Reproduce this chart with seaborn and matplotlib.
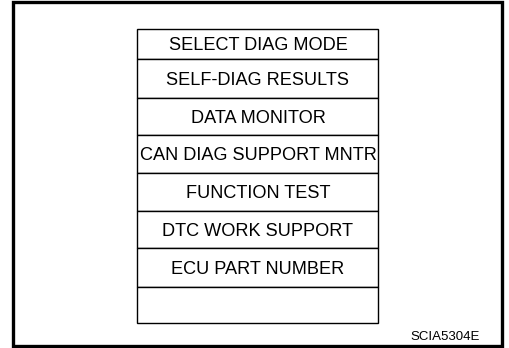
import numpy as np
import matplotlib
matplotlib.use("Agg")
import matplotlib.pyplot as plt
from matplotlib.patches import Rectangle
import seaborn as sns

# ── Data ─────────────────────────────────────────────
menu_items = [
    "SELECT DIAG MODE",
    "SELF-DIAG RESULTS",
    "DATA MONITOR",
    "CAN DIAG SUPPORT MNTR",
    "FUNCTION TEST",
    "DTC WORK SUPPORT",
    "ECU PART NUMBER",
    "",
]
figure_code = "SCIA5304E"

# ── Layout (pixels) ──────────────────────────────────
W, H = 509, 348
BOX_LEFT, BOX_TOP, BOX_W = 137, 29, 241
row_px = [30, 39, 37, 38, 38, 37, 39, 36]

sns.set_theme(style="white")
plt.rcParams["font.family"] = ["Liberation Sans", "DejaVu Sans"]

fig = plt.figure(figsize=(W / 100, H / 100), dpi=100)
ax = fig.add_axes([0, 0, 1, 1])
ax.set_xlim(0, W)
ax.set_ylim(H, 0)
ax.axis("off")

# outer frame
ax.add_patch(Rectangle((13.5, 1.5), 489, 344.5, fill=False, lw=2.4, edgecolor="black"))

# menu rows
tops = np.cumsum([BOX_TOP] + row_px[:-1])
centers = tops + np.array(row_px) / 2
ax.barh(centers, width=BOX_W, left=BOX_LEFT, height=row_px,
        color="white", edgecolor="black", linewidth=1.0)
for c, label in zip(centers, menu_items):
    ax.text(BOX_LEFT + BOX_W / 2 + 0.5, c, label, ha="center", va="center_baseline",
            fontsize=13.1, color="black")

ax.text(480, 336, figure_code, ha="right", va="center_baseline",
        fontsize=9.5, color="black")

fig.savefig("out.png", dpi=100)
